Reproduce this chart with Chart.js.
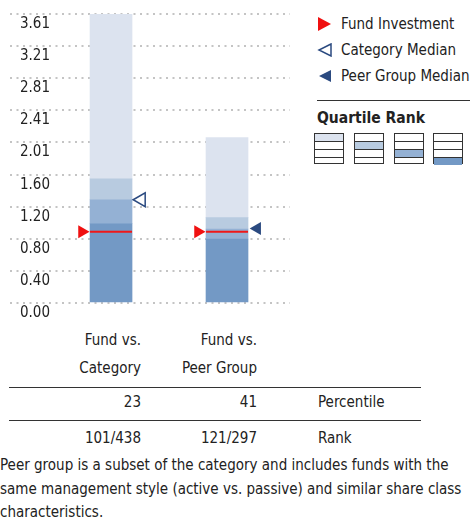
<!DOCTYPE html>
<html>
<head>
<meta charset="utf-8">
<script src="https://cdn.jsdelivr.net/npm/chart.js@4/dist/chart.umd.min.js"></script>
<style>
  body { margin: 0; width: 470px; height: 527px; position: relative; overflow: hidden; background: #fff;
         font-family: 'DejaVu Sans Condensed', sans-serif; color: #222; font-size: 15px; }
  #chartBox { position: absolute; left: 0; top: 0; width: 300px; height: 320px; }
  .abs { position: absolute; white-space: nowrap; line-height: 20px; }
  .r { text-align: right; }
  .rule { position: absolute; height: 0; border-top: 1px solid #333; }
  .leg { position: absolute; left: 317px; height: 20px; line-height: 20px; font-size: 15px; }
  .leg svg { position: absolute; left: 0; top: 3px; }
  .leg span { position: absolute; left: 24px; white-space: nowrap; }
  .qbox { position: absolute; top: 133px; width: 30px; height: 31px; border: 1px solid #333; box-sizing: border-box; }
  .qbox div { height: 7px; border-bottom: 1px solid #333; }
  .qbox div:last-child { border-bottom: none; }
</style>
</head>
<body>
<div id="chartBox"><canvas id="chartQuartile"></canvas></div>

<!-- legend -->
<div class="leg" style="top:14px">
  <svg width="16" height="14"><polygon points="1,0 14,7 1,14" fill="#f01010"/></svg>
  <span>Fund Investment</span>
</div>
<div class="leg" style="top:40px">
  <svg width="16" height="14"><polygon points="14,1 2,7 14,13" fill="#fff" stroke="#2b4a80" stroke-width="1.5"/></svg>
  <span>Category Median</span>
</div>
<div class="leg" style="top:66px">
  <svg width="16" height="14"><polygon points="14,1 2,7 14,13" fill="#2b4a80"/></svg>
  <span>Peer Group Median</span>
</div>
<div class="rule" style="left:317px; top:100px; width:153px"></div>
<div class="abs" style="left:317px; top:108px; font-weight:bold; font-size:15.5px">Quartile Rank</div>
<div id="qboxes"></div>

<!-- table -->
<div class="abs r" style="left:40px; width:101px; top:330px">Fund vs.</div>
<div class="abs r" style="left:40px; width:101px; top:358px">Category</div>
<div class="abs r" style="left:156px; width:101px; top:330px">Fund vs.</div>
<div class="abs r" style="left:156px; width:101px; top:358px">Peer Group</div>
<div class="rule" style="left:9px; top:387px; width:412px"></div>
<div class="abs r" style="left:40px; width:101px; top:392px" id="pct0"></div>
<div class="abs r" style="left:156px; width:101px; top:392px" id="pct1"></div>
<div class="abs" style="left:318px; top:392px">Percentile</div>
<div class="rule" style="left:9px; top:420px; width:412px"></div>
<div class="abs r" style="left:40px; width:101px; top:428px" id="rank0"></div>
<div class="abs r" style="left:156px; width:101px; top:428px" id="rank1"></div>
<div class="abs" style="left:318px; top:428px">Rank</div>
<div class="abs" style="left:0; top:454px; line-height:23.5px">Peer group is a subset of the category and includes funds with the<br>same management style (active vs. passive) and similar share class<br>characteristics.</div>

<script>
// Quartile ranking - expense ratio vs category / peer group

const comparisons = ['Fund vs. Category', 'Fund vs. Peer Group'];
// quartile break points per comparison (bottom = best quartile)
const categoryBreaks = [0.00, 0.99, 1.29, 1.55, 3.61];
const peerBreaks = [0.00, 0.80, 0.924, 1.066, 2.065];
const fundValue = [0.89, 0.89];
const categoryMedian = [1.29];
const peerMedian = [0.93];
const percentiles = [23, 41];
const ranks = ['101/438', '121/297'];
const yTickLabels = ['0.00', '0.40', '0.80', '1.20', '1.60', '2.01', '2.41', '2.81', '3.21', '3.61'];

const quartileColors = ['#7399c5', '#94b1d4', '#b8cbe0', '#dce3ef']; // 1st .. 4th (bottom to top)
const FONT = "'DejaVu Sans Condensed', sans-serif";
const MARK_OFFSET = 0.25;

// table values
percentiles.forEach((p, i) => document.getElementById('pct' + i).textContent = p);
ranks.forEach((r, i) => document.getElementById('rank' + i).textContent = r);

// quartile rank icons
const qLeft = [314, 354, 394, 433];
const qHolder = document.getElementById('qboxes');
qLeft.forEach((left, k) => {
  const box = document.createElement('div');
  box.className = 'qbox';
  box.style.left = left + 'px';
  for (let row = 0; row < 4; row++) {
    const cell = document.createElement('div');
    if (row === k) cell.style.background = quartileColors[3 - k];
    box.appendChild(cell);
  }
  qHolder.appendChild(box);
});

const breaks = [categoryBreaks, peerBreaks];
const quartileSets = [0, 1, 2, 3].map(q => ({
  type: 'bar',
  data: breaks.map((b, i) => ({ x: i, y: [b[q], b[q + 1]] })),
  backgroundColor: quartileColors[q],
  barThickness: 42,
  grouped: false,
  order: 5,
}));

new Chart(document.getElementById('chartQuartile'), {
  type: 'bar',
  data: {
    datasets: [
      {
        type: 'scatter',
        data: fundValue.map((v, i) => ({ x: i, y: v })),
        pointStyle: 'line',
        pointRadius: 21,
        borderColor: '#f01818',
        borderWidth: 2,
        order: 1,
      },
      {
        type: 'scatter',
        data: fundValue.map((v, i) => ({ x: i - MARK_OFFSET, y: v })),
        pointStyle: 'triangle',
        rotation: 90,
        pointRadius: 7.5,
        backgroundColor: '#f01010',
        borderColor: '#f01010',
        borderWidth: 0,
        order: 0,
      },
      {
        type: 'scatter',
        data: categoryMedian.map((v, i) => ({ x: i + MARK_OFFSET + 0.01, y: v })),
        pointStyle: 'triangle',
        rotation: -90,
        pointRadius: 8,
        backgroundColor: '#ffffff',
        borderColor: '#2b4a80',
        borderWidth: 1.5,
        order: 0,
      },
      {
        type: 'scatter',
        data: peerMedian.map((v, i) => ({ x: i + 1 + MARK_OFFSET + 0.01, y: v })),
        pointStyle: 'triangle',
        rotation: -90,
        pointRadius: 7.5,
        backgroundColor: '#2b4a80',
        borderColor: '#2b4a80',
        borderWidth: 0,
        order: 0,
      },
      ...quartileSets,
    ]
  },
  options: {
    responsive: true,
    maintainAspectRatio: false,
    animation: false,
    layout: { autoPadding: false, padding: { left: 10, right: 10, top: 14, bottom: 17 } },
    plugins: { legend: { display: false }, tooltip: { enabled: false } },
    scales: {
      x: { type: 'linear', display: false, offset: false, min: -0.871, max: 1.543 },
      y: {
        min: 0,
        max: 3.61,
        afterBuildTicks: axis => { axis.ticks = yTickLabels.map(t => ({ value: parseFloat(t) })); },
        afterFit: axis => { axis.width = 0; axis.paddingTop = 0; axis.paddingBottom = 0; },
        ticks: {
          mirror: true,
          padding: 10,
          labelOffset: 10,
          color: '#222',
          font: { family: FONT, size: 15 },
          callback: (v, i) => yTickLabels[i],
        },
        grid: { color: '#c4c4c4', lineWidth: 2, drawTicks: false },
        border: { display: false, dash: [2, 4.5] },
      }
    }
  }
});
</script>
</body>
</html>
